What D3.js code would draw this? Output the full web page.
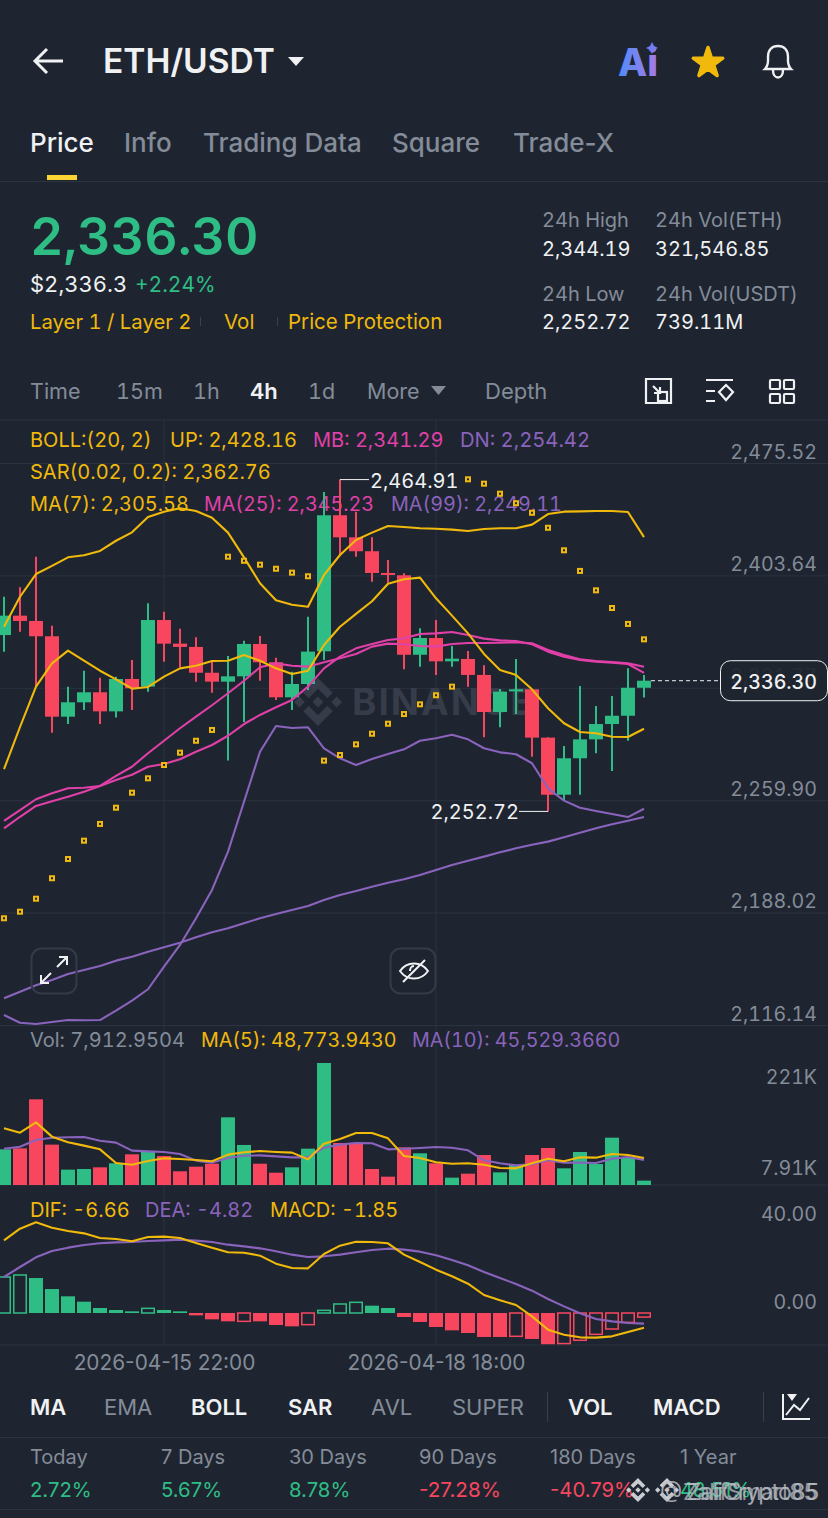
<!DOCTYPE html>
<html>
<head>
<meta charset="utf-8">
<style>
  html, body { margin: 0; padding: 0; background: #1e2530; }
  svg { display: block; }
  text { font-family: Inter, "Noto Sans", sans-serif; font-feature-settings: "tnum"; }
  text.plain, .plain text { font-feature-settings: normal; }
</style>
</head>
<body>
<svg id="chart" width="828" height="1518"></svg>
<script src="https://cdn.jsdelivr.net/npm/d3@7"></script>
<script>
// candles, 4h
const open = [2365.5,2377.9,2374.5,2364.7,2313.3,2322.5,2328.9,2316.7,2337.4,2332.5,2375.1,2360.0,2357.9,2341.4,2335.7,2339.1,2359.8,2348.1,2325.7,2334.2,2355.1,2442.1,2428.0,2419.1,2405.2,2403.7,2352.9,2363.6,2348.7,2350.2,2340.0,2316.3,2329.5,2330.8,2299.9,2263.4,2286.7,2298.8,2308.6,2313.9,2331.8];
const close = [2377.9,2374.5,2364.7,2313.3,2322.5,2328.9,2316.7,2337.4,2331.5,2375.1,2360.0,2357.9,2341.4,2335.7,2339.1,2359.8,2348.1,2325.7,2334.2,2354.9,2442.1,2428.0,2419.1,2405.2,2404.5,2352.9,2363.6,2348.7,2350.4,2340.0,2316.3,2329.3,2330.8,2299.9,2263.4,2286.7,2298.8,2308.6,2313.9,2331.8,2336.3];
const high = [2390.0,2396.0,2415.6,2371.5,2332.5,2342.7,2338.2,2338.9,2349.6,2385.8,2380.4,2369.6,2364.1,2348.3,2352.1,2361.9,2364.9,2351.0,2342.1,2377.2,2457.0,2464.91,2444.4,2428.0,2413.5,2405.0,2369.8,2375.1,2358.5,2355.3,2346.2,2331.0,2350.2,2330.8,2300.2,2294.6,2332.9,2320.1,2326.5,2344.2,2340.0];
const low = [2354.9,2367.6,2332.5,2303.1,2308.6,2317.6,2308.6,2312.7,2317.6,2329.3,2348.5,2344.9,2335.7,2328.6,2285.2,2309.9,2336.3,2324.0,2317.6,2330.4,2349.6,2416.7,2415.6,2399.6,2399.0,2343.6,2345.3,2340.0,2345.3,2332.5,2300.1,2306.5,2315.0,2287.7,2252.72,2260.0,2263.4,2289.9,2278.6,2297.9,2325.5];

// overlays on the price pane
const bollUp = [2370.8,2390.0,2404.5,2409.7,2415.2,2416.5,2419.3,2425.8,2431.2,2441.0,2444.4,2446.6,2444.8,2440.5,2431.0,2415.2,2398.6,2387.7,2384.9,2383.6,2403.9,2416.7,2426.3,2431.0,2435.2,2434.6,2433.8,2433.5,2432.9,2432.0,2433.3,2433.8,2433.8,2436.1,2442.9,2444.4,2444.6,2444.8,2444.8,2444.2,2428.16];
const bollMb = [2241.9,2249.3,2256.2,2259.2,2262.1,2265.3,2269.0,2272.8,2276.2,2281.3,2283.0,2286.1,2290.9,2295.2,2301.1,2308.6,2314.4,2319.3,2324.0,2332.5,2344.2,2351.7,2357.0,2359.8,2362.3,2363.4,2366.2,2366.6,2367.5,2365.5,2363.2,2362.1,2361.7,2359.6,2354.9,2351.7,2349.6,2348.5,2347.8,2347.0,2341.29];
const bollDn = [2122.5,2117.6,2116.8,2118.1,2119.3,2119.2,2119.3,2125.3,2131.7,2139.0,2153.4,2167.3,2184.4,2202.5,2227.0,2258.9,2290.9,2307.3,2306.1,2306.5,2293.1,2286.7,2282.4,2286.2,2289.4,2292.4,2297.9,2299.5,2301.8,2298.8,2293.1,2290.5,2289.3,2283.5,2267.5,2259.6,2255.1,2253.0,2251.1,2249.1,2254.42];
const ma7 = [2279.7,2306.7,2332.5,2347.4,2355.5,2349.1,2342.7,2337.2,2331.2,2332.3,2338.9,2344.2,2345.9,2348.9,2349.1,2352.7,2349.1,2344.2,2340.6,2342.7,2359.1,2370.8,2379.0,2387.1,2398.3,2401.2,2402.2,2389.0,2377.9,2366.6,2353.4,2343.2,2340.0,2330.8,2318.7,2309.1,2303.5,2302.7,2300.5,2300.3,2305.58];
const ma25 = [2246.6,2253.6,2260.5,2264.3,2267.5,2267.9,2269.0,2275.4,2281.3,2289.9,2297.9,2305.9,2313.3,2320.6,2328.3,2336.3,2344.9,2347.4,2345.9,2345.3,2348.1,2350.6,2353.4,2358.1,2360.0,2359.6,2358.5,2358.1,2359.8,2360.4,2360.4,2360.6,2360.9,2360.2,2355.9,2352.7,2350.0,2348.9,2348.3,2347.4,2345.23];
const ma99 = [2133.2,2137.4,2141.5,2144.9,2148.8,2151.3,2153.9,2157.3,2159.8,2163.0,2165.8,2168.8,2172.2,2175.4,2178.0,2181.2,2184.4,2187.1,2189.7,2192.2,2196.1,2199.3,2201.8,2204.6,2207.1,2209.3,2212.1,2215.3,2218.5,2221.2,2223.8,2226.6,2229.1,2231.4,2233.4,2236.2,2239.1,2241.9,2244.5,2246.8,2249.11];
const sar = [2184.4,2188.6,2196.9,2210.0,2222.3,2234.0,2244.7,2255.1,2264.7,2273.9,2282.4,2290.3,2297.9,2304.8,2415.6,2413.0,2410.5,2407.9,2405.4,2403.1,2285.2,2288.8,2295.6,2302.4,2308.8,2315.0,2321.2,2327.0,2332.5,2465.1,2462.3,2455.9,2449.8,2443.7,2434.1,2419.7,2406.5,2394.1,2382.8,2372.6,2362.76];

// volume pane, in thousands
const volume = [64.6,66.4,155.2,73.1,27.8,29,32,39.3,55.6,60.4,52.5,24.8,33.2,38.6,122.6,72.5,38.6,22.3,32,65.8,221,76.1,75.5,29,15.1,68.2,57.4,39.3,13.3,20.5,54.3,22.9,36.2,54.3,67,30.2,59.8,38,85.7,50.7,7.91];
const volMa5 = [102.7,94.8,113.5,87.6,77.3,71.3,64.6,39.9,36.8,43.5,48.3,47.1,45.3,42.9,55,59.2,61.6,59.8,58.6,46.5,74.9,83.3,94.2,94.2,84.5,52.5,48.9,41.1,38.6,39.3,36.8,30.8,30.2,39.3,47.7,42.9,50.1,49.5,56.2,54.3,48.77];
const volMa10 = [65.8,69.4,81.5,85.7,86.4,87,80.3,76.7,62.2,61,59.8,56.2,44.1,40.5,48.9,53.1,53.7,51.9,50.1,50.1,67.6,73.1,76.1,75.5,64.6,65.8,67,68.8,67.6,62.8,44.7,39.3,35.6,37.4,44.7,40.5,40.5,39.9,47.7,50.7,45.53];

// macd pane
const dif = [33.03,38.33,41.21,38.79,37.27,36.21,34.09,33.64,32.58,34.55,34.70,34.09,31.82,29.70,27.58,27.42,26.06,22.42,20.45,20.30,26.82,30.61,32.42,32.27,31.67,26.52,23.18,19.70,16.67,13.33,8.18,5.76,3.64,-1.52,-7.58,-9.85,-11.06,-11.21,-10.61,-8.64,-6.66];
const dea = [16.36,20.91,25.30,28.18,29.70,30.91,31.67,32.12,32.27,32.73,33.03,33.33,32.88,32.27,31.06,30.30,29.39,28.03,26.52,25.45,25.76,26.52,27.58,28.64,29.24,28.79,27.88,26.21,24.09,21.67,18.64,15.91,13.18,10.15,6.36,3.03,-0.15,-2.73,-3.79,-4.55,-4.82];
const macd = [16.36,17.27,15.9,10.9,7.58,5.15,2.27,1.36,0.76,2.12,1.36,0.76,-1.06,-2.88,-3.79,-3.79,-3.79,-5.45,-6.06,-5.3,1.2,4.09,4.85,3.33,2.27,-1.82,-4.09,-6.36,-7.88,-9.09,-10.9,-10.9,-10.6,-11.8,-14.2,-13.9,-12.4,-9.7,-7.27,-4.24,-1.85];
const macdHollow = [0,1,9,15,19,20,21,22,32,35,36,37,38,39,40];

// axes
const priceTicks = [2475.52,2403.64,2331.77,2259.90,2188.02,2116.14];
const volTicks = [221,7.91];
const macdTicks = [40,0];
const dateIndex = [10,27];
const dateLabels = ["2026-04-15 22:00","2026-04-18 18:00"];

const BG = "#1e2530", GREEN = "#2ebd85", RED = "#f8465f", YELLOW = "#f0b90b";
const PINK = "#e040a8", PURPLE = "#8a63bd", GREY = "#848c99", WHITE = "#f0f1f3", GRID = "#2b3240";

const svg = d3.select("#chart");
const idx = d3.range(open.length);

const x = d3.scaleLinear().domain([0, 40]).range([4, 644]);
const yPrice = d3.scaleLinear().domain([2116.14, 2475.52]).range([1025, 463]);
const yVol = d3.scaleLinear().domain([0, 221]).range([1185, 1063]);
const yMacd = d3.scaleLinear().domain([0, 40]).range([1313, 1225]);

const barW = 14;

function label(sel, tx, ty, str, color, size, weight, anchor) {
  return sel.append("text")
    .attr("x", tx)
    .attr("y", ty)
    .attr("dy", "0.36em")
    .attr("fill", color)
    .attr("font-size", size)
    .attr("font-weight", weight || 400)
    .attr("text-anchor", anchor || "start")
    .text(str);
}

function drawLine(sel, values, scale, color) {
  sel.append("path")
    .datum(values)
    .attr("fill", "none")
    .attr("stroke", color)
    .attr("stroke-width", 2.1)
    .attr("stroke-linejoin", "round")
    .attr("d", d3.line().x((d, i) => x(i)).y(d => scale(d)));
}

function binanceLogo(sel, cx, cy, size, color) {
  const k = size / 126.61;
  sel.append("g")
    .attr("transform", `translate(${cx - size / 2},${cy - size / 2}) scale(${k})`)
    .attr("fill", color)
    .selectAll("path")
    .data([
      "M38.73 53.2L63.3 28.63l24.59 24.58 14.3-14.3L63.3 0 24.42 38.9l14.31 14.3z",
      "M0 63.31l14.3-14.31 14.31 14.31-14.31 14.3z",
      "M38.73 73.41L63.3 97.98l24.59-24.58 14.31 14.29-.01.01L63.3 126.61 24.42 87.74l-.02-.02 14.33-14.31z",
      "M98.3 63.32l14.31-14.31 14.3 14.31-14.3 14.3z",
      "M77.83 63.3L63.3 48.76 52.56 59.5l-1.24 1.24-2.54 2.54 14.52 14.53 14.53-14.51z"
    ])
    .join("path")
    .attr("d", d => d);
}

svg.append("rect").attr("width", 828).attr("height", 1518).attr("fill", BG);

/* ---------- header ---------- */
const head = svg.append("g");
head.append("path")
  .attr("d", "M63 61H36M47 49L35 61L47 73")
  .attr("fill", "none").attr("stroke", WHITE).attr("stroke-width", 3);
label(head, 103, 61, "ETH/USDT", WHITE, 33.5, 600);
head.append("path").attr("d", "M288 57H304L296 66Z").attr("fill", WHITE);

const grad = svg.append("defs").append("linearGradient").attr("id", "aiGrad").attr("x1", 0).attr("x2", 1);
grad.append("stop").attr("offset", 0).attr("stop-color", "#4f8cf7");
grad.append("stop").attr("offset", 1).attr("stop-color", "#a77be8");
label(head, 618, 62, "Ai", "url(#aiGrad)", 38, 800);
head.append("path").attr("d", "M652 42l2 4 4 2-4 2-2 4-2-4-4-2 4-2z").attr("fill", "#6f7cf2");
head.append("path")
  .attr("d", d3.symbol().type(d3.symbolStar).size(270)())
  .attr("transform", "translate(708,63)")
  .attr("fill", YELLOW).attr("stroke", YELLOW).attr("stroke-width", 3.5).attr("stroke-linejoin", "round");
head.append("path")
  .attr("d", "M765 69C769 65 768 60 768 57C768 50 772 46 778 46C784 46 788 50 788 57C788 60 787 65 791 69ZM773 70C773 80 783 80 783 70")
  .attr("fill", "none").attr("stroke", WHITE).attr("stroke-width", 2.4);

// tabs
const tabs = head.append("g").attr("class", "plain");
label(tabs, 30, 143, "Price", WHITE, 26, 500);
label(tabs, 124, 143, "Info", GREY, 26, 500);
label(tabs, 203, 143, "Trading Data", GREY, 26, 500);
label(tabs, 392, 143, "Square", GREY, 26, 500);
label(tabs, 513, 143, "Trade-X", GREY, 26, 500);
head.append("rect").attr("x", 47).attr("y", 175).attr("width", 30).attr("height", 5).attr("fill", "#fcd535");
head.append("rect").attr("x", 0).attr("y", 181).attr("width", 828).attr("height", 1).attr("fill", GRID);

// price block
label(head, 30, 236, "2,336.30", GREEN, 51.7, 600);
label(head, 30, 284, "$2,336.3", WHITE, 22, 400);
label(head, 135, 284, "+2.24%", GREEN, 21, 400);
label(head, 30, 322, "Layer 1 / Layer 2", YELLOW, 20.3, 400);
label(head, 224, 322, "Vol", YELLOW, 20.5, 400);
label(head, 288, 322, "Price Protection", YELLOW, 20.5, 400);
head.append("rect").attr("x", 200).attr("y", 317).attr("width", 1).attr("height", 9).attr("fill", "#3a414e");
head.append("rect").attr("x", 277).attr("y", 317).attr("width", 1).attr("height", 9).attr("fill", "#3a414e");

label(head, 542, 220, "24h High", GREY, 20);
label(head, 542, 249, "2,344.19", WHITE, 20);
label(head, 655, 220, "24h Vol(ETH)", GREY, 20);
label(head, 655, 249, "321,546.85", WHITE, 20);
label(head, 542, 294, "24h Low", GREY, 20);
label(head, 542, 322, "2,252.72", WHITE, 20);
label(head, 655, 294, "24h Vol(USDT)", GREY, 20);
label(head, 655, 322, "739.11M", WHITE, 20);

// timeframe row
label(head, 30, 391, "Time", GREY, 21.5);
label(head, 116, 391, "15m", GREY, 21.5);
label(head, 193, 391, "1h", GREY, 21.5);
label(head, 250, 391, "4h", WHITE, 22, 600);
label(head, 308, 391, "1d", GREY, 21.5);
label(head, 367, 391, "More", GREY, 21.5);
head.append("path").attr("d", "M431 386H446L438.5 395Z").attr("fill", GREY);
label(head, 485, 391, "Depth", GREY, 22);

const ico = head.append("g").attr("fill", "none").attr("stroke", WHITE).attr("stroke-width", 2.2);
ico.append("path").attr("d", "M646 379H671V403H646ZM653 386L660 393M660 387V393H654");
ico.append("rect").attr("x", 658).attr("y", 392).attr("width", 9).attr("height", 9);
ico.append("path").attr("d", "M706 380H733M706 391H715M706 401H715");
ico.append("path").attr("d", "M726 385L733 392L726 400L719 392Z");
ico.selectAll("rect.grid4").data([[770, 380], [784, 380], [770, 394], [784, 394]]).join("rect")
  .attr("x", d => d[0]).attr("y", d => d[1]).attr("width", 10).attr("height", 9).attr("rx", 1);

/* ---------- chart panes ---------- */
const grid = svg.append("g");
[420, 1185, 1345].forEach(v => {
  grid.append("line").attr("x1", 0).attr("x2", 828).attr("y1", v).attr("y2", v).attr("stroke", GRID);
});
grid.selectAll("line.v").data(dateIndex).join("line")
  .attr("x1", d => x(d)).attr("x2", d => x(d))
  .attr("y1", 420).attr("y2", 1345).attr("stroke", GRID);

const priceAxis = d3.axisRight(yPrice)
  .tickValues(priceTicks)
  .tickSize(-828)
  .tickFormat(d3.format(",.2f"));
const priceG = svg.append("g").attr("transform", "translate(828,0)").call(priceAxis);
priceG.select(".domain").remove();
priceG.selectAll("line").attr("stroke", GRID);
priceG.selectAll("text")
  .attr("x", -11).attr("dy", "-0.25em")
  .attr("text-anchor", "end")
  .attr("fill", GREY).attr("font-size", 19.6);

const volAxis = d3.axisRight(yVol).tickValues(volTicks).tickSize(0).tickFormat(d => d + "K");
const volG = svg.append("g").attr("transform", "translate(828,0)").call(volAxis);
volG.select(".domain").remove();
volG.selectAll("text")
  .attr("x", -11).attr("dy", (d, i) => i === 0 ? "1.05em" : "-0.3em")
  .attr("text-anchor", "end")
  .attr("fill", GREY).attr("font-size", 19.6);

const macdAxis = d3.axisRight(yMacd).tickValues(macdTicks).tickSize(0).tickFormat(d3.format(".2f"));
const macdG = svg.append("g").attr("transform", "translate(828,0)").call(macdAxis);
macdG.select(".domain").remove();
macdG.selectAll("text")
  .attr("x", -11).attr("dy", "-0.25em")
  .attr("text-anchor", "end")
  .attr("fill", GREY).attr("font-size", 19.6);

const dateAxis = d3.axisBottom(x).tickValues(dateIndex).tickSize(0).tickFormat((d, i) => dateLabels[i]);
const dateG = svg.append("g").attr("class", "plain").attr("transform", "translate(0,1345)").call(dateAxis);
dateG.select(".domain").remove();
dateG.selectAll("text").attr("y", 18).attr("dy", "0.36em").attr("fill", GREY).attr("font-size", 20.8);

// watermark sits under the candles
binanceLogo(svg, 318, 702, 48, "#363c49");
label(svg, 352, 702, "BINANCE", "#363c49", 37, 700).attr("letter-spacing", 2);

// legend rows
const legend = svg.append("g");
label(legend, 30, 440, "BOLL:(20, 2)", YELLOW, 20);
label(legend, 170, 440, "UP: 2,428.16", YELLOW, 20);
label(legend, 313, 440, "MB: 2,341.29", PINK, 20);
label(legend, 460, 440, "DN: 2,254.42", PURPLE, 20.2);
label(legend, 30, 472, "SAR(0.02, 0.2): 2,362.76", YELLOW, 20);
label(legend, 30, 504, "MA(7): 2,305.58", YELLOW, 19.9);
label(legend, 204, 504, "MA(25): 2,345.23", PINK, 19.7);
label(legend, 391, 504, "MA(99): 2,249.11", PURPLE, 19.8);
label(legend, 30, 1040, "Vol: 7,912.9504", GREY, 20);
label(legend, 201, 1040, "MA(5): 48,773.9430", YELLOW, 19.7);
label(legend, 412, 1040, "MA(10): 45,529.3660", PURPLE, 19.7);
label(legend, 30, 1210, "DIF: -6.66", YELLOW, 20);
label(legend, 145, 1210, "DEA: -4.82", PURPLE, 20);
label(legend, 270, 1210, "MACD: -1.85", YELLOW, 20);

const isUp = i => close[i] >= open[i];

// candles
const candles = svg.append("g");
candles.selectAll("line").data(idx).join("line")
  .attr("x1", i => x(i)).attr("x2", i => x(i))
  .attr("y1", i => yPrice(high[i])).attr("y2", i => yPrice(low[i]))
  .attr("stroke", i => isUp(i) ? GREEN : RED)
  .attr("stroke-width", 2);
candles.selectAll("rect").data(idx).join("rect")
  .attr("x", i => x(i) - barW / 2)
  .attr("width", barW)
  .attr("y", i => yPrice(Math.max(open[i], close[i])))
  .attr("height", i => Math.max(2, Math.abs(yPrice(open[i]) - yPrice(close[i]))))
  .attr("fill", i => isUp(i) ? GREEN : RED);

// overlays
drawLine(svg, ma99, yPrice, PURPLE);
drawLine(svg, bollDn, yPrice, PURPLE);
drawLine(svg, ma25, yPrice, PINK);
drawLine(svg, bollMb, yPrice, PINK);
drawLine(svg, ma7, yPrice, YELLOW);
drawLine(svg, bollUp, yPrice, YELLOW);

const dots = svg.append("g");
dots.selectAll("rect.o").data(sar).join("rect")
  .attr("x", (d, i) => x(i) - 3).attr("y", d => yPrice(d) - 3)
  .attr("width", 6).attr("height", 6).attr("fill", YELLOW);
dots.selectAll("rect.c").data(sar, (d, i) => "c" + i).enter().append("rect")
  .attr("x", (d, i) => x(i) - 1).attr("y", d => yPrice(d) - 1)
  .attr("width", 2).attr("height", 2).attr("fill", BG);

// high / low callouts
const hiIdx = high.indexOf(d3.max(high));
const loIdx = low.indexOf(d3.min(low));
svg.append("line")
  .attr("x1", x(hiIdx)).attr("x2", x(hiIdx) + 29)
  .attr("y1", yPrice(high[hiIdx])).attr("y2", yPrice(high[hiIdx]))
  .attr("stroke", WHITE);
label(svg, x(hiIdx) + 30, yPrice(high[hiIdx]) + 1, d3.format(",.2f")(high[hiIdx]), WHITE, 20);
svg.append("line")
  .attr("x1", x(loIdx)).attr("x2", x(loIdx) - 29)
  .attr("y1", yPrice(low[loIdx])).attr("y2", yPrice(low[loIdx]))
  .attr("stroke", WHITE);
label(svg, x(loIdx) - 29, yPrice(low[loIdx]), d3.format(",.2f")(low[loIdx]), WHITE, 20, 400, "end");

// last price tag
const lastY = yPrice(close[close.length - 1]);
svg.append("line")
  .attr("x1", x(40) + 7).attr("x2", 720).attr("y1", lastY).attr("y2", lastY)
  .attr("stroke", WHITE).attr("stroke-dasharray", "4 3");
svg.append("rect")
  .attr("x", 720.5).attr("y", lastY - 20).attr("width", 107).attr("height", 40).attr("rx", 10)
  .attr("fill", BG).attr("fill-opacity", 0.92).attr("stroke", WHITE);
label(svg, 817, lastY + 1, "2,336.30", WHITE, 19.6, 500, "end");

// chart buttons
[[31, 948], [390, 948]].forEach(p => {
  svg.append("rect").attr("x", p[0] + 0.5).attr("y", p[1] + 0.5).attr("width", 45).attr("height", 45).attr("rx", 10)
    .attr("fill", "none").attr("stroke", "#343b48").attr("stroke-width", 2);
});
svg.append("path")
  .attr("d", "M57 967L67 957M59 957H67V965M51 973L41 983M41 975V983H49")
  .attr("fill", "none").attr("stroke", WHITE).attr("stroke-width", 2);
svg.append("path")
  .attr("d", "M400 971C407 961 421 961 428 971C421 981 407 981 400 971ZM403 982L425 960M414 966C411 966 410 969 410 971")
  .attr("fill", "none").attr("stroke", WHITE).attr("stroke-width", 2);

// volume bars
svg.append("g").selectAll("rect").data(volume).join("rect")
  .attr("x", (d, i) => x(i) - barW / 2)
  .attr("width", barW)
  .attr("y", d => yVol(d))
  .attr("height", d => yVol(0) - yVol(d))
  .attr("fill", (d, i) => isUp(i) ? GREEN : RED);
drawLine(svg, volMa10, yVol, PURPLE);
drawLine(svg, volMa5, yVol, YELLOW);

// macd histogram, hollow bars are outlined only
svg.append("g").selectAll("rect").data(macd).join("rect")
  .attr("x", (d, i) => x(i) - barW / 2 + (macdHollow.includes(i) ? 0.75 : 0))
  .attr("width", (d, i) => barW - (macdHollow.includes(i) ? 1.5 : 0))
  .attr("y", d => Math.min(yMacd(d), yMacd(0)))
  .attr("height", d => Math.abs(yMacd(d) - yMacd(0)))
  .attr("fill", (d, i) => macdHollow.includes(i) ? "none" : (d >= 0 ? GREEN : RED))
  .attr("stroke", (d, i) => macdHollow.includes(i) ? (d >= 0 ? GREEN : RED) : "none")
  .attr("stroke-width", 1.5);
drawLine(svg, dea, yMacd, PURPLE);
drawLine(svg, dif, yMacd, YELLOW);

/* ---------- bottom bars ---------- */
const foot = svg.append("g");
label(foot, 30, 1407, "MA", WHITE, 22, 600);
label(foot, 104, 1407, "EMA", GREY, 22, 400);
label(foot, 191, 1407, "BOLL", WHITE, 22, 600);
label(foot, 288, 1407, "SAR", WHITE, 22, 600);
label(foot, 371, 1407, "AVL", GREY, 22, 400);
label(foot, 452, 1407, "SUPER", GREY, 22, 400);
label(foot, 568, 1407, "VOL", WHITE, 22, 600);
label(foot, 653, 1407, "MACD", WHITE, 22, 600);
foot.append("rect").attr("x", 547).attr("y", 1392).attr("width", 1).attr("height", 30).attr("fill", "#3a414e");
foot.append("rect").attr("x", 763).attr("y", 1392).attr("width", 1).attr("height", 30).attr("fill", "#3a414e");
foot.append("path")
  .attr("d", "M783 1394V1419H810M786 1415L794 1405L800 1410L809 1398")
  .attr("fill", "none").attr("stroke", WHITE).attr("stroke-width", 2);
foot.append("path").attr("d", "M787 1394H797L792 1401Z").attr("fill", WHITE);
foot.append("rect").attr("x", 0).attr("y", 1437).attr("width", 828).attr("height", 1).attr("fill", GRID);
foot.append("rect").attr("x", 0).attr("y", 1509).attr("width", 828).attr("height", 1).attr("fill", GRID);

const rows = foot.append("g").attr("class", "plain");
label(rows, 30, 1457, "Today", GREY, 20);
label(rows, 161, 1457, "7 Days", GREY, 20);
label(rows, 289, 1457, "30 Days", GREY, 20);
label(rows, 419, 1457, "90 Days", GREY, 20);
label(rows, 550, 1457, "180 Days", GREY, 20);
label(rows, 680, 1457, "1 Year", GREY, 20);
label(rows, 30, 1490, "2.72%", GREEN, 20.3);
label(rows, 161, 1490, "5.67%", GREEN, 20.3);
label(rows, 289, 1490, "8.78%", GREEN, 20.3);
label(rows, 419, 1490, "-27.28%", RED, 20.6);
label(rows, 550, 1490, "-40.79%", RED, 20.3);
label(rows, 680, 1490, "48.51%", GREEN, 20.3);

// repost watermarks on top of the last row
binanceLogo(foot, 638, 1490, 24, "#c9ccd1");
binanceLogo(foot, 667, 1490, 24, "#c9ccd1");
label(foot, 660, 1492, "@ ZaliCrypto85", "#b9bcc2", 23).attr("textLength", 160).attr("fill-opacity", 0.85);
label(foot, 683, 1492, "ZalifSmart85", "#b9bcc2", 23).attr("textLength", 135).attr("fill-opacity", 0.75);
</script>
</body>
</html>
